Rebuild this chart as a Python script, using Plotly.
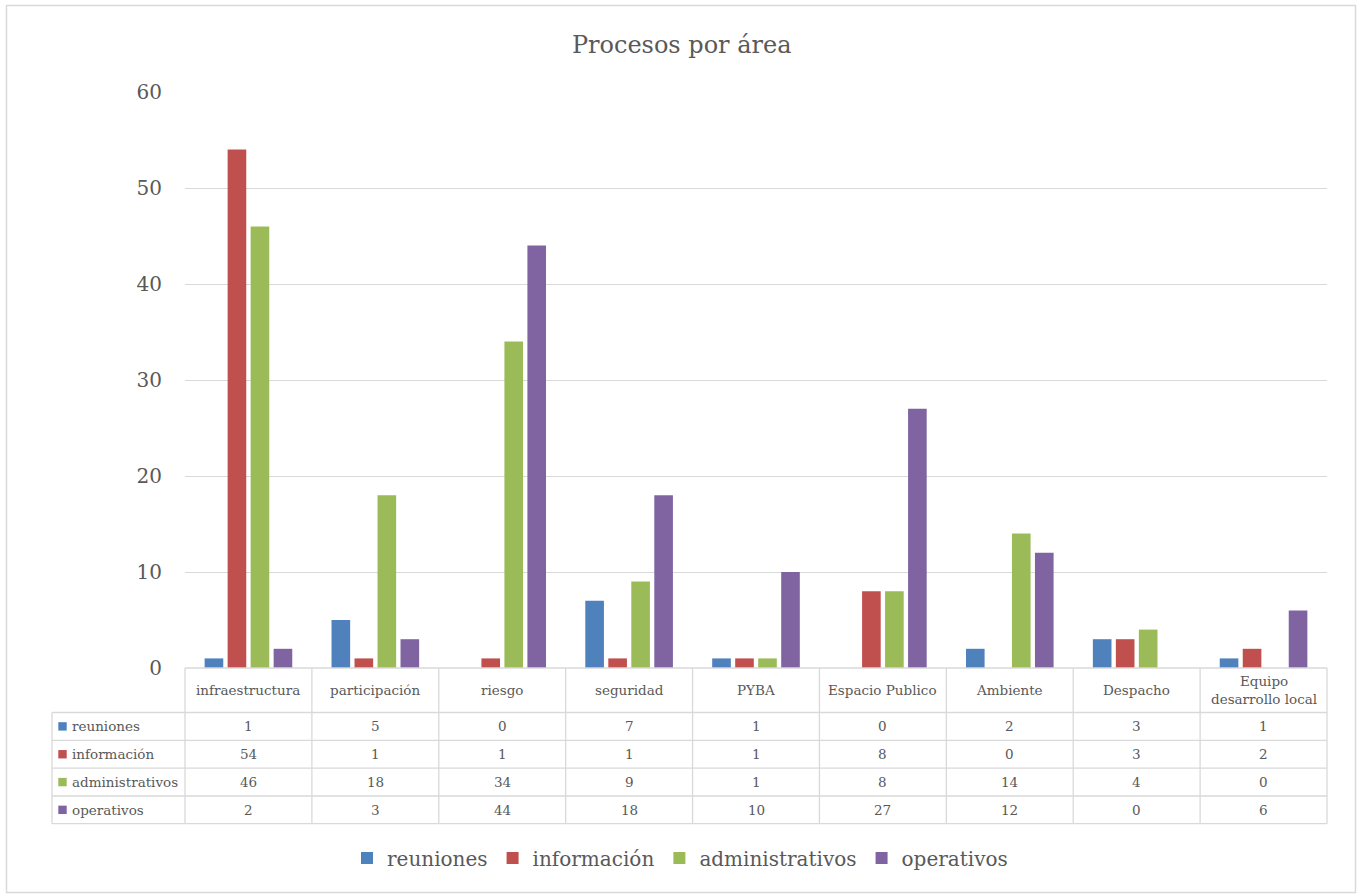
import plotly.graph_objects as go

categories = ["infraestructura", "participación", "riesgo", "seguridad", "PYBA",
              "Espacio Publico", "Ambiente", "Despacho", "Equipo desarrollo local"]
header_labels = ["infraestructura", "participación", "riesgo", "seguridad", "PYBA",
                 "Espacio Publico", "Ambiente", "Despacho", "Equipo<br>desarrollo local"]
series_names = ["reuniones", "información", "administrativos", "operativos"]
reuniones = [1, 5, 0, 7, 1, 0, 2, 3, 1]
informacion = [54, 1, 1, 1, 1, 8, 0, 3, 2]
administrativos = [46, 18, 34, 9, 1, 8, 14, 4, 0]
operativos = [2, 3, 44, 18, 10, 27, 12, 0, 6]
y_ticks = [0, 10, 20, 30, 40, 50, 60]

series_values = [reuniones, informacion, administrativos, operativos]
colors = ["#4F81BD", "#C0504D", "#9BBB59", "#8064A2"]

W, H = 1357, 894
PL, PR, PT, PB = 185, 1327, 92, 668   # plot area in screen pixels
L, T, R, B = PL, PT, W - PR, H - PB
PW = W - L - R
PH = H - T - B
FONT = "DejaVu Serif"
TXT = "#595959"
LINE = "#D9D9D9"


def px_x(sx):
    return (sx - PL) / PW


def px_y(sy):
    return (PB - sy) / PH


fig = go.Figure()
for name, vals, col in zip(series_names, series_values, colors):
    fig.add_trace(go.Bar(x=categories, y=vals, name=name,
                         marker=dict(color=col, line=dict(width=0))))

shapes = []
annotations = []

row_lines = [712.5, 740.3, 768.2, 796.0, 823.7]
row_centers = [(row_lines[i] + row_lines[i + 1]) / 2 for i in range(4)]
header_center = (PB + row_lines[0]) / 2
x_left = 52


def line(x0, y0, x1, y1):
    shapes.append(dict(type="line", xref="paper", yref="paper",
                       x0=x0, y0=y0, x1=x1, y1=y1,
                       line=dict(color=LINE, width=1.3)))


n = len(categories)
line(0, px_y(PB), 1, px_y(PB))
for ry in row_lines:
    line(px_x(x_left), px_y(ry), 1, px_y(ry))
for i in range(n + 1):
    line(i / n, px_y(PB), i / n, px_y(row_lines[-1]))
line(px_x(x_left), px_y(row_lines[0]), px_x(x_left), px_y(row_lines[-1]))

for cat, lab in zip(categories, header_labels):
    annotations.append(dict(x=cat, xref="x", y=px_y(header_center), yref="paper",
                            text=lab, showarrow=False, yanchor="middle",
                            font=dict(family=FONT, size=13.5, color=TXT)))

for r, (name, vals, col) in enumerate(zip(series_names, series_values, colors)):
    cy = row_centers[r]
    for cat, v in zip(categories, vals):
        annotations.append(dict(x=cat, xref="x", y=px_y(cy), yref="paper",
                                text=str(v), showarrow=False, yanchor="middle",
                                font=dict(family=FONT, size=13.5, color=TXT)))
    annotations.append(dict(x=px_x(70), xref="paper", y=px_y(cy), yref="paper",
                            text=name, showarrow=False, xanchor="left", yanchor="middle",
                            font=dict(family=FONT, size=13.5, color=TXT)))
    shapes.append(dict(type="rect", xref="paper", yref="paper",
                       x0=px_x(58.3), x1=px_x(66.7),
                       y0=px_y(cy + 4.2), y1=px_y(cy - 4.2),
                       fillcolor=col, line=dict(width=0)))

shapes.append(dict(type="rect", xref="paper", yref="paper",
                   x0=px_x(6.5), x1=px_x(1355.5), y0=px_y(892.5), y1=px_y(5.5),
                   line=dict(color=LINE, width=1.5), fillcolor="rgba(0,0,0,0)",
                   layer="below"))

fig.update_layout(
    width=W, height=H,
    margin=dict(l=L, r=R, t=T, b=B, pad=0),
    paper_bgcolor="white", plot_bgcolor="white",
    title=dict(text="Procesos por área", x=681.7 / W, xanchor="center",
               y=1 - 45 / H, yanchor="middle", xref="container", yref="container",
               font=dict(family=FONT, size=24, color=TXT)),
    barmode="group", bargap=0.275, bargroupgap=0.19,
    xaxis=dict(type="category", categoryorder="array", categoryarray=categories,
               showticklabels=False, showgrid=False, zeroline=False, showline=False,
               range=[-0.5, n - 0.5], fixedrange=True),
    yaxis=dict(range=[0, 60], tickvals=y_ticks, showgrid=True, gridcolor=LINE,
               gridwidth=1.3, zeroline=False, showline=False, ticks="",
               ticklabelstandoff=22,
               tickfont=dict(family=FONT, size=20, color=TXT), fixedrange=True),
    legend=dict(orientation="h", x=px_x(680), xanchor="center",
                y=px_y(858), yanchor="middle",
                font=dict(family=FONT, size=20, color=TXT),
                itemwidth=30, bgcolor="rgba(0,0,0,0)"),
    shapes=shapes, annotations=annotations,
    font=dict(family=FONT, color=TXT),
)

fig.write_html("out.html",
               config={"displayModeBar": False},
               post_script="document.body.style.margin='0';"
                           "document.body.style.overflow='hidden';")
